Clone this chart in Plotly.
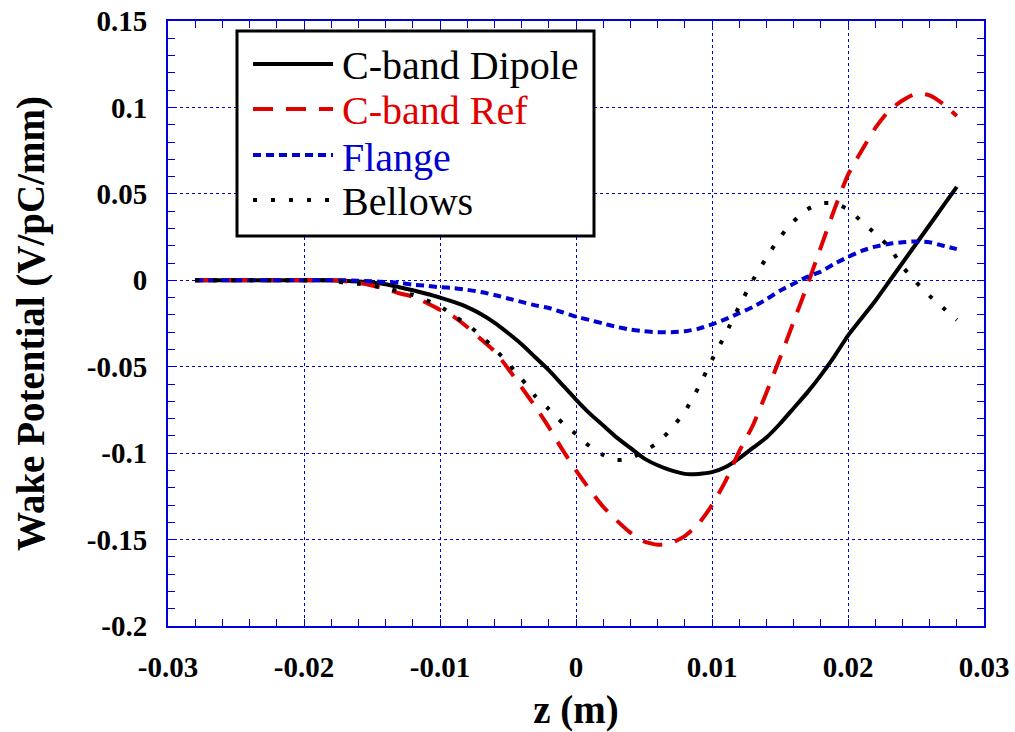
import plotly.graph_objects as go

z = [round(-0.028 + 0.001 * i, 3) for i in range(57)]

dipole = [0, 0, 0, 0, 0, 0, 0, 0, 0, 0, 0,
          -0.0003, -0.0007, -0.0013, -0.0023, -0.004, -0.0058, -0.0078, -0.010, -0.0125, -0.0155,
          -0.0195, -0.0245, -0.0305, -0.037, -0.0445, -0.052, -0.0605, -0.069, -0.077, -0.084,
          -0.091, -0.097, -0.103, -0.107, -0.110, -0.112, -0.112, -0.111, -0.108, -0.103,
          -0.097, -0.091, -0.083, -0.074, -0.065, -0.055, -0.044, -0.032, -0.022, -0.012,
          -0.001, 0.010, 0.021, 0.032, 0.043, 0.054]

cband_ref = [0, 0, 0, 0, 0, 0, 0, 0, 0, 0, 0,
             -0.0005, -0.0015, -0.003, -0.005, -0.0075, -0.0095, -0.013, -0.017, -0.021, -0.027,
             -0.034, -0.041, -0.051, -0.062, -0.073, -0.085, -0.098, -0.110, -0.121, -0.131,
             -0.139, -0.146, -0.151, -0.153, -0.152, -0.148, -0.141, -0.130, -0.116, -0.099,
             -0.084, -0.065, -0.045, -0.024, -0.003, 0.019, 0.041, 0.061, 0.075, 0.088,
             0.098, 0.104, 0.108, 0.107, 0.102, 0.095]

flange = [0, 0, 0, 0, 0, 0, 0, 0, 0, 0, 0, 0,
          -0.0003, -0.0006, -0.001, -0.0015, -0.0025, -0.0032, -0.004, -0.0045, -0.0055,
          -0.0068, -0.0085, -0.0105, -0.0125, -0.0145, -0.016, -0.0185, -0.021, -0.023, -0.025,
          -0.027, -0.0285, -0.0295, -0.030, -0.030, -0.0295, -0.028, -0.0255, -0.0225, -0.019,
          -0.0155, -0.011, -0.006, -0.002, 0.002, 0.005, 0.0095, 0.0135, 0.017, 0.0195,
          0.021, 0.022, 0.0225, 0.022, 0.020, 0.018]

bellows = [0, 0, 0, 0, 0, 0, 0, 0, 0, 0, 0,
           -0.0015, -0.002, -0.003, -0.0045, -0.0065, -0.0085, -0.0115, -0.015, -0.0205, -0.0255,
           -0.032, -0.0395, -0.048, -0.057, -0.067, -0.0745, -0.0825, -0.089, -0.096, -0.101,
           -0.104, -0.103, -0.099, -0.094, -0.086, -0.076, -0.062, -0.046, -0.031, -0.015,
           0.000, 0.013, 0.025, 0.034, 0.041, 0.0445, 0.0445, 0.041, 0.034, 0.027,
           0.0195, 0.008, -0.001, -0.009, -0.016, -0.023]

series_names = ["C-band Dipole", "C-band Ref", "Flange", "Bellows"]

x_tickvals = [-0.03, -0.02, -0.01, 0, 0.01, 0.02, 0.03]
x_ticktext = ["-0.03", "-0.02", "-0.01", "0", "0.01", "0.02", "0.03"]
y_tickvals = [0.15, 0.1, 0.05, 0, -0.05, -0.1, -0.15, -0.2]
y_ticktext = ["0.15", "0.1", "0.05", "0", "-0.05", "-0.1", "-0.15", "-0.2"]

BLUE_AX = "#0000DD"
RED = "#E00000"
BLUE = "#0000D0"
FONT = "Liberation Serif"

styles = [
    dict(color="black", width=4, dash="solid"),
    dict(color=RED, width=4, dash="20px,13px"),
    dict(color=BLUE, width=4, dash="8px,5px"),
    dict(color="black", width=4, dash="4px,14px"),
]
text_colors = ["black", RED, BLUE, "black"]
series = [dipole, cband_ref, flange, bellows]

fig = go.Figure()
for name, ys, st in zip(series_names, series, styles):
    fig.add_trace(go.Scatter(x=z, y=ys, mode="lines", name=name,
                             line=dict(shape="spline", smoothing=0.6, **st),
                             showlegend=False))

# Hand-drawn legend box (to match the original's compact spacing)
def px2paper_x(px):
    return (px - 168) / 816.0

def px2paper_y(py):
    return (626 - py) / 605.0

fig.add_shape(type="rect", xref="paper", yref="paper",
              x0=px2paper_x(237), x1=px2paper_x(594),
              y0=px2paper_y(236), y1=px2paper_y(31),
              line=dict(color="black", width=3), fillcolor="white", layer="above")
row_y = [64, 109, 155, 200]
for i, (name, st, tc) in enumerate(zip(series_names, styles, text_colors)):
    fig.add_shape(type="line", xref="paper", yref="paper",
                  x0=px2paper_x(253), x1=px2paper_x(333),
                  y0=px2paper_y(row_y[i]), y1=px2paper_y(row_y[i]),
                  line=dict(color=st["color"], width=4, dash=st["dash"]), layer="above")
    fig.add_annotation(xref="paper", yref="paper",
                       x=px2paper_x(340), y=px2paper_y(row_y[i] + 2),
                       xanchor="left", yanchor="middle", showarrow=False,
                       text=name, font=dict(family=FONT, size=40, color=tc))

axis_common = dict(
    showline=True, linecolor=BLUE_AX, linewidth=2, mirror="allticks",
    ticks="inside", ticklen=7, tickcolor=BLUE_AX, tickwidth=1,
    showgrid=True, gridcolor=BLUE_AX, gridwidth=1, griddash="3px,3px",
    zeroline=False, automargin=False,
    tickfont=dict(family=FONT, size=29, color="black", weight="bold"),
)

fig.update_xaxes(
    range=[-0.03, 0.03], tickmode="array", tickvals=x_tickvals, ticktext=x_ticktext,
    minor=dict(dtick=0.002, ticks="inside", ticklen=7, tickcolor=BLUE_AX, showgrid=False),
    title=dict(text="z (m)", font=dict(family=FONT, size=39, color="black", weight="bold"), standoff=14),
    ticklabelstandoff=14,
    **axis_common,
)
fig.update_yaxes(
    range=[-0.2, 0.15], tickmode="array", tickvals=y_tickvals, ticktext=y_ticktext,
    minor=dict(dtick=0.01, ticks="inside", ticklen=7, tickcolor=BLUE_AX, showgrid=False),
    title=dict(text="Wake Potential (V/pC/mm)", font=dict(family=FONT, size=39, color="black", weight="bold"), standoff=30),
    ticklabelstandoff=13,
    **axis_common,
)

fig.update_layout(
    width=1015, height=732,
    margin=dict(l=168, r=31, t=21, b=106),
    paper_bgcolor="white", plot_bgcolor="white",
    font=dict(family=FONT, color="black"),
    showlegend=False,
)

fig.write_html("out.html")
